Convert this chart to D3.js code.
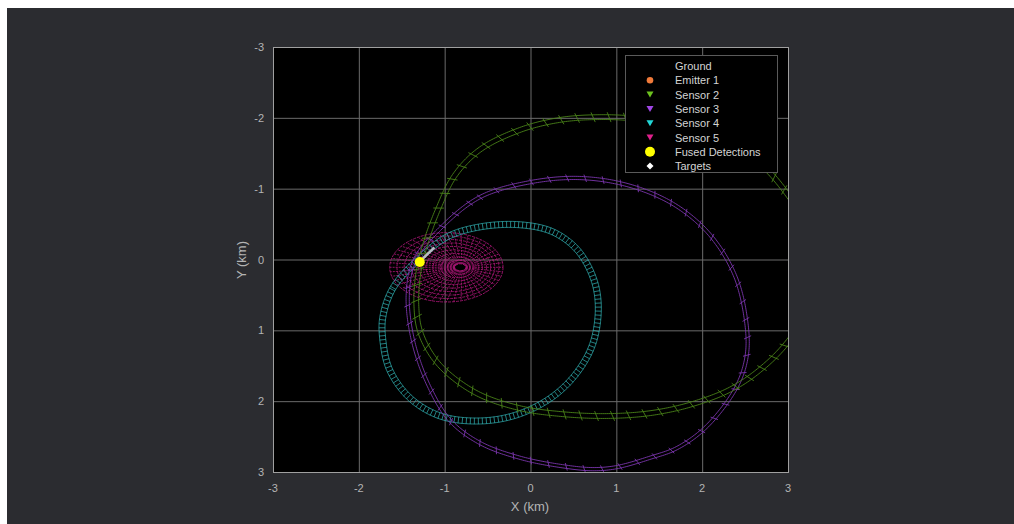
<!DOCTYPE html>
<html>
<head>
<meta charset="utf-8">
<script src="https://cdn.jsdelivr.net/npm/d3@7"></script>
<style>
  html, body { margin: 0; padding: 0; background: #ffffff; }
  svg { display: block; }
</style>
</head>
<body>
<svg id="chart" width="1014" height="524"></svg>
<script>
// ---- data (km) ----
const xTicks = [-3, -2, -1, 0, 1, 2, 3];
const yTicks = [-3, -2, -1, 0, 1, 2, 3];

const sensor2Track = [
  [3.0, -0.91], [2.67, -1.36], [2.21, -1.69], [1.74, -1.87], [1.28, -1.98], [0.81, -2.01],
  [0.34, -1.97], [-0.12, -1.83], [-0.59, -1.55], [-0.88, -1.19], [-1.08, -0.70], [-1.23, -0.20],
  [-1.31, 0.22], [-1.33, 0.64], [-1.29, 1.0], [-1.15, 1.35], [-0.94, 1.63], [-0.59, 1.91],
  [-0.12, 2.10], [0.34, 2.18], [0.87, 2.21], [1.39, 2.17], [1.86, 2.05], [2.32, 1.84],
  [2.67, 1.56], [3.0, 1.16], [3.37, 0.43], [3.31, -0.28]
];
const sensor3Track = [
  [-1.05, -0.44], [-0.59, -0.88], [-0.01, -1.09], [0.58, -1.15], [1.16, -1.04], [1.68, -0.77],
  [2.09, -0.35], [2.38, 0.22], [2.51, 0.85], [2.52, 1.35], [2.40, 1.80],
  [2.05, 2.36], [1.71, 2.66], [1.39, 2.80], [1.01, 2.93], [0.73, 2.96], [0.38, 2.92],
  [-0.12, 2.80], [-0.59, 2.59], [-0.94, 2.27], [-1.19, 1.77], [-1.37, 1.14], [-1.43, 0.50],
  [-1.35, 0.01]
];
const sensor4Track = [
  [-1.72, 0.81], [-1.60, 0.40], [-1.29, -0.02], [-0.97, -0.32], [-0.59, -0.46],
  [-0.12, -0.49], [0.26, -0.39], [0.55, -0.13], [0.74, 0.29], [0.79, 0.71], [0.72, 1.21],
  [0.52, 1.63], [0.23, 1.96], [-0.18, 2.20], [-0.61, 2.28], [-1.05, 2.21], [-1.40, 1.96],
  [-1.64, 1.56], [-1.72, 1.14]
];
const sensor5Center = [-0.98, 0.11];
const sensor5Radii = [0.66, 0.49];
const sensor5Rings = [0.1, 0.2, 0.3, 0.4, 0.5, 0.6, 0.7, 0.8, 0.9, 1.0];
const targetTrack = [[-1.29, 0.03], [-1.12, -0.17]];
const fusedDetections = [[-1.29, 0.035]];

const legendNames = ["Ground", "Emitter 1", "Sensor 2", "Sensor 3", "Sensor 4", "Sensor 5", "Fused Detections", "Targets"];
const legendColors = [null, "#f07a3a", "#6cc11e", "#a046e6", "#22d6d6", "#e0208c", "#ffff00", "#ffffff"];
const legendSymbols = [null, "circle", "tri", "tri", "tri", "tri", "bigcircle", "diamond"];

// ---- layout ----
const svg = d3.select("#chart");
svg.append("rect").attr("x", 7).attr("y", 8).attr("width", 1007).attr("height", 516).attr("fill", "#2b2c30");

const xScale = d3.scaleLinear().domain([-3, 3]).range([273, 788]);
const yScale = d3.scaleLinear().domain([-3, 3]).range([47, 472]);

svg.append("rect")
  .attr("x", 273).attr("y", 47).attr("width", 515).attr("height", 425)
  .attr("fill", "#000");

svg.append("clipPath").attr("id", "plotClip")
  .append("rect").attr("x", 273).attr("y", 47).attr("width", 515).attr("height", 425);

// grid
const grid = svg.append("g");
grid.selectAll(".gx").data(xTicks.slice(1, -1)).join("line")
  .attr("x1", d => xScale(d) + 0.5).attr("x2", d => xScale(d) + 0.5)
  .attr("y1", 47).attr("y2", 472)
  .attr("stroke", "#6b6b6b").attr("stroke-width", 1);
grid.selectAll(".gy").data(yTicks.slice(1, -1)).join("line")
  .attr("y1", d => yScale(d) + 0.5).attr("y2", d => yScale(d) + 0.5)
  .attr("x1", 273).attr("x2", 788)
  .attr("stroke", "#6b6b6b").attr("stroke-width", 1);

const plot = svg.append("g").attr("clip-path", "url(#plotClip)");

// draws a track as a ladder: two rails and cross rungs
function ladder(track, color, halfW, step, rungEvery, ext, skew, railW) {
  const line = d3.line().x(d => xScale(d[0])).y(d => yScale(d[1])).curve(d3.curveCatmullRomClosed.alpha(0.5));
  const tmp = svg.append("path").attr("d", line(track)).attr("fill", "none");
  const node = tmp.node();
  const total = node.getTotalLength();
  const pts = [];
  for (let l = 0; l < total; l += step) {
    const p = node.getPointAtLength(l);
    pts.push([p.x, p.y]);
  }
  tmp.remove();
  const n = pts.length;
  const left = [], right = [], rungs = [];
  for (let i = 0; i < n; i++) {
    const a = pts[(i - 2 + n) % n], b = pts[(i + 2) % n];
    let tx = b[0] - a[0], ty = b[1] - a[1];
    const len = Math.hypot(tx, ty) || 1;
    tx /= len; ty /= len;
    const nx = -ty, ny = tx;
    const p = pts[i];
    left.push([p[0] + nx * halfW, p[1] + ny * halfW]);
    right.push([p[0] - nx * halfW, p[1] - ny * halfW]);
    if (i % rungEvery === 0) {
      const h = halfW + ext;
      rungs.push([[p[0] - nx * h - tx * skew, p[1] - ny * h - ty * skew],
                  [p[0] + nx * h + tx * skew, p[1] + ny * h + ty * skew]]);
    }
  }
  const g = plot.append("g").attr("stroke", color).attr("fill", "none");
  const pl = d3.line().curve(d3.curveLinearClosed);
  g.append("path").attr("d", pl(left)).attr("stroke-width", railW);
  g.append("path").attr("d", pl(right)).attr("stroke-width", railW);
  g.selectAll("line").data(rungs).join("line")
    .attr("x1", d => d[0][0]).attr("y1", d => d[0][1])
    .attr("x2", d => d[1][0]).attr("y2", d => d[1][1])
    .attr("stroke-width", railW);
}

// sensor 5 polar mesh
const s5 = plot.append("g").attr("stroke", "#b3187c").attr("fill", "none").attr("stroke-width", 0.8);
const ringCenter = f => sensor5Center[0] + (1 - f) * 0.18;
sensor5Rings.forEach(f => {
  s5.append("ellipse")
    .attr("cx", xScale(ringCenter(f))).attr("cy", yScale(sensor5Center[1]))
    .attr("rx", xScale(sensor5Radii[0] * f) - xScale(0))
    .attr("ry", yScale(sensor5Radii[1] * f) - yScale(0))
    .attr("stroke-dasharray", "3 1");
});
const spokeAngles = d3.range(0, 360, 7.5);
spokeAngles.forEach(deg => {
  const t = deg * Math.PI / 180;
  const pts = sensor5Rings.map(f => [
    xScale(ringCenter(f) + sensor5Radii[0] * f * Math.cos(t)),
    yScale(sensor5Center[1] + sensor5Radii[1] * f * Math.sin(t))
  ]);
  s5.append("path").attr("d", d3.line()(pts)).attr("stroke-dasharray", "2 1");
});

ladder(sensor4Track, "#2fa9ab", 3.0, 2, 2, 0.2, 0, 0.75);
ladder(sensor3Track, "#7b36ad", 1.6, 2, 9, 2, 1.5, 0.9);
ladder(sensor2Track, "#4a8219", 2.4, 2, 8, 2.5, 2, 0.9);

// target track + fused detection
plot.append("path")
  .attr("d", d3.line().x(d => xScale(d[0])).y(d => yScale(d[1]))(targetTrack))
  .attr("stroke", "#b9bcc4").attr("stroke-width", 2.5).attr("fill", "none");
plot.selectAll(".fused").data(fusedDetections).join("circle")
  .attr("cx", d => xScale(d[0])).attr("cy", d => yScale(d[1]))
  .attr("r", 5).attr("fill", "#ffff00");

// axis box
svg.append("rect")
  .attr("x", 273.5).attr("y", 47.5).attr("width", 515).attr("height", 425)
  .attr("fill", "none").attr("stroke", "#a0a0a0").attr("stroke-width", 1);

// tick labels
const font = "'Liberation Sans', Arial, sans-serif";
svg.append("g").selectAll("text").data(xTicks).join("text")
  .attr("x", d => xScale(d)).attr("y", 492)
  .attr("text-anchor", "middle").attr("font-family", font).attr("font-size", 11)
  .attr("fill", "#b4b4b4").text(d => d);
svg.append("g").selectAll("text").data(yTicks).join("text")
  .attr("x", 264).attr("y", d => yScale(d) + 4)
  .attr("text-anchor", "end").attr("font-family", font).attr("font-size", 11)
  .attr("fill", "#b4b4b4").text(d => d);

svg.append("text").attr("x", 530).attr("y", 511)
  .attr("text-anchor", "middle").attr("font-family", font).attr("font-size", 13)
  .attr("fill", "#b4b4b4").text("X (km)");
svg.append("text").attr("transform", "translate(246,260) rotate(-90)")
  .attr("text-anchor", "middle").attr("font-family", font).attr("font-size", 13)
  .attr("fill", "#b4b4b4").text("Y (km)");

// legend
const legend = svg.append("g");
legend.append("rect")
  .attr("x", 625.5).attr("y", 55.5).attr("width", 152).attr("height", 117)
  .attr("fill", "#000").attr("stroke", "#5a5a5a");
legendNames.forEach((name, i) => {
  const cy = 66 + i * 14.3;
  const sym = legendSymbols[i];
  const col = legendColors[i];
  if (sym === "circle") {
    legend.append("circle").attr("cx", 650).attr("cy", cy).attr("r", 3.3).attr("fill", col);
  } else if (sym === "bigcircle") {
    legend.append("circle").attr("cx", 650).attr("cy", cy).attr("r", 5).attr("fill", col);
  } else if (sym === "tri") {
    legend.append("path").attr("d", `M${646.5},${cy - 3} L${653.5},${cy - 3} L650,${cy + 3} Z`).attr("fill", col);
  } else if (sym === "diamond") {
    legend.append("path").attr("d", `M650,${cy - 3.5} L653.5,${cy} L650,${cy + 3.5} L646.5,${cy} Z`).attr("fill", col);
  }
  legend.append("text").attr("x", 675).attr("y", cy + 4)
    .attr("font-family", font).attr("font-size", 11)
    .attr("fill", "#d4d4d4").text(name);
});
</script>
</body>
</html>
